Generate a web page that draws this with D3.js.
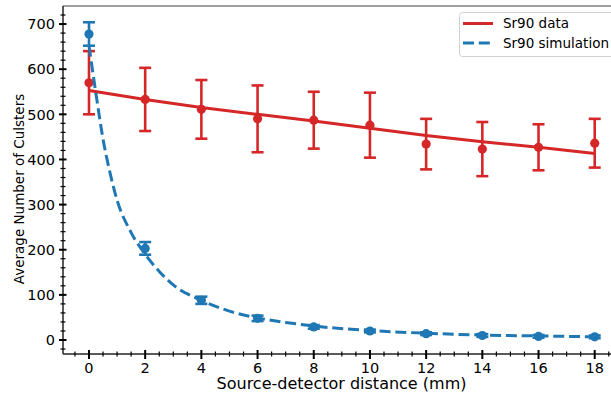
<!DOCTYPE html>
<html>
<head>
<meta charset="utf-8">
<script src="https://cdn.jsdelivr.net/npm/d3@7"></script>
<style>
  html, body { margin: 0; padding: 0; background: #fff; }
  svg { display: block; font-family: "DejaVu Sans", sans-serif; }
</style>
</head>
<body>
<svg id="chart" width="611" height="396"></svg>
<script>
// ---- data ----
const distances = [0, 2, 4, 6, 8, 10, 12, 14, 16, 18];
const dataMean = [570, 533, 511, 490, 487, 476, 434, 423, 427, 436];
const dataErr  = [70, 70, 65, 74, 63, 72, 56, 60, 51, 54];
const dataFit  = [553, 533, 515, 500, 485, 469, 453, 439, 427, 413];

const simMean = [678, 203, 88, 48, 29, 20, 14, 10, 8, 7];
const simErr  = [26, 14, 8, 6, 4, 3, 3, 3, 3, 3];
const simCurveX = [0, 0.25, 0.5, 0.75, 1, 1.5, 2, 2.5, 3, 4, 5, 6, 7, 8, 10, 12, 14, 16, 18];
const simCurveY = [652, 545, 445, 370, 310, 238, 190, 152, 122, 88, 64, 49, 39, 31, 21, 15, 11, 9, 7];

const xTicks = [0, 2, 4, 6, 8, 10, 12, 14, 16, 18];
const yTicks = [0, 100, 200, 300, 400, 500, 600, 700];
const legendLabels = ["Sr90 data", "Sr90 simulation"];

const xLabel = "Source-detector distance (mm)";
const yLabel = "Average Number of Culsters";

const RED = "#d62728", BLUE = "#1f77b4";

// ---- layout ----
const svg = d3.select("#chart");
const pL = 63, pR = 620, pT = 6, pB = 354;

const x = d3.scaleLinear().domain([-0.925, 18.9]).range([pL, pR]);
const y = d3.scaleLinear().domain([-31, 740]).range([pB, pT]);

svg.append("defs").append("clipPath").attr("id", "clip")
  .append("rect").attr("x", pL).attr("y", pT).attr("width", pR - pL).attr("height", pB - pT);

// top spine (gray)
svg.append("line").attr("x1", pL).attr("x2", pR).attr("y1", pT).attr("y2", pT)
  .attr("stroke", "#808080").attr("stroke-width", 1.6);

const plot = svg.append("g").attr("clip-path", "url(#clip)");

function errorBars(g, means, errs, color) {
  const capW = 6;
  const eg = g.append("g").attr("stroke", color).attr("stroke-width", 2.6).attr("fill", "none");
  distances.forEach((d, i) => {
    const cx = x(d), y0 = y(means[i] - errs[i]), y1 = y(means[i] + errs[i]);
    eg.append("line").attr("x1", cx).attr("x2", cx).attr("y1", y0).attr("y2", y1);
    eg.append("line").attr("x1", cx - capW).attr("x2", cx + capW).attr("y1", y0).attr("y2", y0);
    eg.append("line").attr("x1", cx - capW).attr("x2", cx + capW).attr("y1", y1).attr("y2", y1);
  });
  g.append("g").selectAll("circle").data(means).join("circle")
    .attr("cx", (d, i) => x(distances[i])).attr("cy", d => y(d))
    .attr("r", 4.6).attr("fill", color);
}

// red data
errorBars(plot, dataMean, dataErr, RED);
plot.append("path")
  .datum(distances.map((d, i) => [d, dataFit[i]]))
  .attr("fill", "none").attr("stroke", RED).attr("stroke-width", 3)
  .attr("d", d3.line().x(d => x(d[0])).y(d => y(d[1])));

// blue simulation
errorBars(plot, simMean, simErr, BLUE);
plot.append("path")
  .datum(simCurveX.map((d, i) => [d, simCurveY[i]]))
  .attr("fill", "none").attr("stroke", BLUE).attr("stroke-width", 3)
  .attr("stroke-dasharray", "11,4.8")
  .attr("d", d3.line().curve(d3.curveMonotoneX).x(d => x(d[0])).y(d => y(d[1])));

// ---- axes ----
const axisColor = "#000";
svg.append("line").attr("x1", pL).attr("x2", pL).attr("y1", pT).attr("y2", pB)
  .attr("stroke", axisColor).attr("stroke-width", 1.3);
svg.append("line").attr("x1", pL).attr("x2", pR).attr("y1", pB).attr("y2", pB)
  .attr("stroke", "#222").attr("stroke-width", 1.3);

// y minor ticks
const yMinor = d3.range(-20, 740, 20).filter(v => v % 100 !== 0);
svg.append("g").selectAll("line").data(yMinor).join("line")
  .attr("x1", pL - 2.5).attr("x2", pL + 2.5)
  .attr("y1", d => y(d)).attr("y2", d => y(d))
  .attr("stroke", axisColor).attr("stroke-width", 1.2);
// y major ticks
svg.append("g").selectAll("line").data(yTicks).join("line")
  .attr("x1", pL - 4).attr("x2", pL + 3.5)
  .attr("y1", d => y(d)).attr("y2", d => y(d))
  .attr("stroke", axisColor).attr("stroke-width", 2);
svg.append("g").selectAll("text").data(yTicks).join("text")
  .attr("x", pL - 8).attr("y", d => y(d)).attr("dy", "0.36em")
  .attr("text-anchor", "end").attr("font-size", 14.5).attr("fill", "#000")
  .text(d => d);

// x minor ticks
const xMinor = d3.range(-0.5, 19, 0.5).filter(v => v % 2 !== 0);
svg.append("g").selectAll("line").data(xMinor).join("line")
  .attr("x1", d => x(d)).attr("x2", d => x(d))
  .attr("y1", pB - 2.5).attr("y2", pB + 2.5)
  .attr("stroke", axisColor).attr("stroke-width", 1.2);
// x major ticks
svg.append("g").selectAll("line").data(xTicks).join("line")
  .attr("x1", d => x(d)).attr("x2", d => x(d))
  .attr("y1", pB - 4).attr("y2", pB + 5)
  .attr("stroke", axisColor).attr("stroke-width", 2);
svg.append("g").selectAll("text").data(xTicks).join("text")
  .attr("x", d => x(d)).attr("y", pB + 18.5)
  .attr("text-anchor", "middle").attr("font-size", 14.5).attr("fill", "#000")
  .text(d => d);

// axis labels
svg.append("text").attr("x", (pL + pR) / 2).attr("y", 389)
  .attr("text-anchor", "middle").attr("font-size", 16).attr("fill", "#000").text(xLabel);
svg.append("text").attr("transform", "translate(24,189) rotate(-90)")
  .attr("text-anchor", "middle").attr("font-size", 13.5).attr("fill", "#000").text(yLabel);

// ---- legend ----
const lg = svg.append("g");
lg.append("rect").attr("x", 459.5).attr("y", 12.5).attr("width", 170).attr("height", 44)
  .attr("rx", 3).attr("fill", "#fff").attr("fill-opacity", 0.8)
  .attr("stroke", "#d0d0d0").attr("stroke-width", 1);
const legendColors = [RED, BLUE];
const legendDash = [null, "11,4.8"];
legendLabels.forEach((lab, i) => {
  const ly = 23.5 + i * 19.5;
  lg.append("line").attr("x1", 463).attr("x2", 493).attr("y1", ly).attr("y2", ly)
    .attr("stroke", legendColors[i]).attr("stroke-width", 3)
    .attr("stroke-dasharray", legendDash[i]);
  lg.append("text").attr("x", 503).attr("y", ly).attr("dy", "0.36em")
    .attr("font-size", 13.5).attr("fill", "#000").text(lab);
});
</script>
</body>
</html>
